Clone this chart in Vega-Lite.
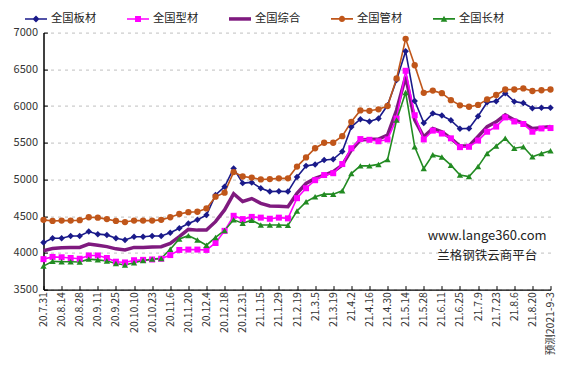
{
  "$schema": "https://vega.github.io/schema/vega-lite/v6.json",
  "width": 507,
  "height": 257,
  "autosize": {"type": "none"},
  "padding": {"left": 43.5, "top": 32.6, "right": 30.5, "bottom": 89.4},
  "config": {"view": {"stroke": null}, "font": "Noto Sans CJK SC"},
  "data": {"values": [
    {"d": "20.7.31", "全国板材": 4140, "全国型材": 3915, "全国综合": 4030, "全国管材": 4450, "全国长材": 3820},
    {"d": "20.8.7", "全国板材": 4200, "全国型材": 3945, "全国综合": 4060, "全国管材": 4435, "全国长材": 3885},
    {"d": "20.8.14", "全国板材": 4200, "全国型材": 3940, "全国综合": 4070, "全国管材": 4440, "全国长材": 3880},
    {"d": "20.8.21", "全国板材": 4230, "全国型材": 3930, "全国综合": 4075, "全国管材": 4440, "全国长材": 3880},
    {"d": "20.8.28", "全国板材": 4230, "全国型材": 3920, "全国综合": 4075, "全国管材": 4445, "全国长材": 3875},
    {"d": "20.9.4", "全国板材": 4290, "全国型材": 3965, "全国综合": 4120, "全国管材": 4485, "全国长材": 3915},
    {"d": "20.9.11", "全国板材": 4255, "全国型材": 3965, "全国综合": 4105, "全国管材": 4480, "全国长材": 3905},
    {"d": "20.9.18", "全国板材": 4245, "全国型材": 3930, "全国综合": 4085, "全国管材": 4460, "全国长材": 3890},
    {"d": "20.9.25", "全国板材": 4200, "全国型材": 3880, "全国综合": 4055, "全国管材": 4435, "全国长材": 3855},
    {"d": "20.9.30", "全国板材": 4175, "全国型材": 3870, "全国综合": 4040, "全国管材": 4420, "全国长材": 3835},
    {"d": "20.10.10", "全国板材": 4220, "全国型材": 3900, "全国综合": 4075, "全国管材": 4440, "全国长材": 3865},
    {"d": "20.10.16", "全国板材": 4220, "全国型材": 3905, "全国综合": 4075, "全国管材": 4440, "全国长材": 3895},
    {"d": "20.10.23", "全国板材": 4230, "全国型材": 3910, "全国综合": 4080, "全国管材": 4440, "全国长材": 3915},
    {"d": "20.10.30", "全国板材": 4230, "全国型材": 3920, "全国综合": 4085, "全国管材": 4450, "全国长材": 3925},
    {"d": "20.11.6", "全国板材": 4275, "全国型材": 3970, "全国综合": 4130, "全国管材": 4485, "全国长材": 4050},
    {"d": "20.11.13", "全国板材": 4335, "全国型材": 4040, "全国综合": 4220, "全国管材": 4530, "全国长材": 4190},
    {"d": "20.11.20", "全国板材": 4400, "全国型材": 4045, "全国综合": 4320, "全国管材": 4555, "全国长材": 4235},
    {"d": "20.11.27", "全国板材": 4450, "全国型材": 4045, "全国综合": 4310, "全国管材": 4560, "全国长材": 4175},
    {"d": "20.12.4", "全国板材": 4515, "全国型材": 4040, "全国综合": 4310, "全国管材": 4605, "全国长材": 4105},
    {"d": "20.12.11", "全国板材": 4790, "全国型材": 4135, "全国综合": 4425, "全国管材": 4765, "全国长材": 4210},
    {"d": "20.12.18", "全国板材": 4900, "全国型材": 4300, "全国综合": 4585, "全国管材": 4820, "全国长材": 4305},
    {"d": "20.12.25", "全国板材": 5150, "全国型材": 4505, "全国综合": 4805, "全国管材": 5100, "全国长材": 4450},
    {"d": "20.12.31", "全国板材": 4950, "全国型材": 4460, "全国综合": 4700, "全国管材": 5040, "全国长材": 4405},
    {"d": "21.1.8", "全国板材": 4960, "全国型材": 4490, "全国综合": 4740, "全国管材": 5025, "全国长材": 4445},
    {"d": "21.1.15", "全国板材": 4880, "全国型材": 4480, "全国综合": 4675, "全国管材": 5000, "全国长材": 4380},
    {"d": "21.1.22", "全国板材": 4835, "全国型材": 4465, "全国综合": 4640, "全国管材": 5005, "全国长材": 4380},
    {"d": "21.1.29", "全国板材": 4840, "全国型材": 4480, "全国综合": 4635, "全国管材": 5015, "全国长材": 4380},
    {"d": "21.2.5", "全国板材": 4835, "全国型材": 4470, "全国综合": 4630, "全国管材": 5015, "全国长材": 4375},
    {"d": "21.2.19", "全国板材": 5035, "全国型材": 4745, "全国综合": 4810, "全国管材": 5175, "全国长材": 4570},
    {"d": "21.2.26", "全国板材": 5185, "全国型材": 4880, "全国综合": 4945, "全国管材": 5300, "全国长材": 4695},
    {"d": "21.3.5", "全国板材": 5205, "全国型材": 4990, "全国综合": 5015, "全国管材": 5425, "全国长材": 4765},
    {"d": "21.3.12", "全国板材": 5265, "全国型材": 5060, "全国综合": 5060, "全国管材": 5500, "全国长材": 4800},
    {"d": "21.3.19", "全国板材": 5275, "全国型材": 5085, "全国综合": 5105, "全国管材": 5500, "全国长材": 4800},
    {"d": "21.3.26", "全国板材": 5380, "全国型材": 5210, "全国综合": 5195, "全国管材": 5590, "全国长材": 4845},
    {"d": "21.4.2", "全国板材": 5715, "全国型材": 5425, "全国综合": 5400, "全国管材": 5785, "全国长材": 5080},
    {"d": "21.4.9", "全国板材": 5820, "全国型材": 5550, "全国综合": 5540, "全国管材": 5940, "全国长材": 5185},
    {"d": "21.4.16", "全国板材": 5790, "全国型材": 5540, "全国综合": 5545, "全国管材": 5935, "全国长材": 5185},
    {"d": "21.4.23", "全国板材": 5830, "全国型材": 5520, "全国综合": 5550, "全国管材": 5955, "全国长材": 5205},
    {"d": "21.4.30", "全国板材": 6010, "全国型材": 5545, "全国综合": 5605, "全国管材": 6000, "全国长材": 5270},
    {"d": "21.5.7", "全国板材": 6355, "全国型材": 5830, "全国综合": 5945, "全国管材": 6375, "全国长材": 5810},
    {"d": "21.5.14", "全国板材": 6745, "全国型材": 6480, "全国综合": 6400, "全国管材": 6915, "全国长材": 6185},
    {"d": "21.5.21", "全国板材": 6070, "全国型材": 5875, "全国综合": 5810, "全国管材": 6555, "全国长材": 5445},
    {"d": "21.5.28", "全国板材": 5770, "全国型材": 5545, "全国综合": 5580, "全国管材": 6180, "全国长材": 5150},
    {"d": "21.6.4", "全国板材": 5900, "全国型材": 5665, "全国综合": 5695, "全国管材": 6210, "全国长材": 5335},
    {"d": "21.6.11", "全国板材": 5870, "全国型材": 5625, "全国综合": 5650, "全国管材": 6175, "全国长材": 5305},
    {"d": "21.6.18", "全国板材": 5805, "全国型材": 5560, "全国综合": 5560, "全国管材": 6080, "全国长材": 5195},
    {"d": "21.6.25", "全国板材": 5690, "全国型材": 5440, "全国综合": 5455, "全国管材": 6010, "全国长材": 5060},
    {"d": "21.7.2", "全国板材": 5695, "全国型材": 5445, "全国综合": 5455, "全国管材": 5990, "全国长材": 5040},
    {"d": "21.7.9", "全国板材": 5860, "全国型材": 5530, "全国综合": 5585, "全国管材": 6015, "全国长材": 5175},
    {"d": "21.7.16", "全国板材": 6050, "全国型材": 5650, "全国综合": 5720, "全国管材": 6090, "全国长材": 5355},
    {"d": "21.7.23", "全国板材": 6065, "全国型材": 5720, "全国综合": 5785, "全国管材": 6150, "全国长材": 5455},
    {"d": "21.7.30", "全国板材": 6175, "全国型材": 5845, "全国综合": 5880, "全国管材": 6225, "全国长材": 5560},
    {"d": "21.8.6", "全国板材": 6060, "全国型材": 5790, "全国综合": 5810, "全国管材": 6225, "全国长材": 5425},
    {"d": "21.8.13", "全国板材": 6040, "全国型材": 5755, "全国综合": 5765, "全国管材": 6240, "全国长材": 5445},
    {"d": "21.8.20", "全国板材": 5970, "全国型材": 5650, "全国综合": 5695, "全国管材": 6205, "全国长材": 5310},
    {"d": "21.8.27", "全国板材": 5975, "全国型材": 5695, "全国综合": 5705, "全国管材": 6215, "全国长材": 5355},
    {"d": "预测2021-9-3", "全国板材": 5975, "全国型材": 5700, "全国综合": 5720, "全国管材": 6225, "全国长材": 5390}
  ]},
  "transform": [{"fold": ["全国板材", "全国型材", "全国综合", "全国管材", "全国长材"], "as": ["s", "v"]}],
  "encoding": {
    "x": {
      "field": "d", "type": "ordinal", "sort": null,
      "scale": {"type": "point", "padding": 0},
      "axis": {
        "title": null,
        "values": ["20.7.31", "20.8.14", "20.8.28", "20.9.11", "20.9.25", "20.10.10", "20.10.23", "20.11.6", "20.11.20", "20.12.4", "20.12.18", "20.12.31", "21.1.15", "21.1.29", "21.2.19", "21.3.5", "21.3.19", "21.4.2", "21.4.16", "21.4.30", "21.5.14", "21.5.28", "21.6.11", "21.6.25", "21.7.9", "21.7.23", "21.8.6", "21.8.20", "预测2021-9-3"],
        "labelAngle": -90,
        "labelFontSize": 10.5,
        "labelColor": "#333333",
        "labelPadding": 6,
        "tickSize": -4,
        "tickColor": "#000000",
        "domainColor": "#000000",
        "domainWidth": 1.2,
        "grid": false
      }
    },
    "y": {
      "field": "v", "type": "quantitative",
      "scale": {"domain": [3500, 7000], "nice": false, "zero": false},
      "axis": {
        "title": null,
        "format": "d",
        "values": [3500, 4000, 4500, 5000, 5500, 6000, 6500, 7000],
        "labelFontSize": 11,
        "labelColor": "#333333",
        "labelPadding": 10,
        "tickSize": -4,
        "tickColor": "#000000",
        "domainColor": "#000000",
        "domainWidth": 1.5,
        "grid": true,
        "gridColor": "#BFBFBF",
        "gridDash": [3, 4],
        "gridWidth": 1
      }
    },
    "color": {
      "field": "s", "type": "nominal",
      "scale": {"domain": ["全国板材", "全国型材", "全国综合", "全国管材", "全国长材"], "range": ["#1A1A8A", "#FF00FF", "#7F1A7F", "#C0561A", "#228B22"]},
      "legend": null
    }
  },
  "resolve": {"legend": {"color": "independent", "shape": "independent"}},
  "layer": [
    {"transform": [{"filter": "datum.s === '全国综合'"}], "mark": {"type": "line", "strokeWidth": 3.5}},
    {"transform": [{"filter": "datum.s !== '全国综合'"}], "mark": {"type": "line", "strokeWidth": 1.6}},
    {"transform": [{"filter": "datum.s === '全国板材'"}], "mark": {"type": "point", "shape": "diamond", "filled": true, "opacity": 1, "size": 42}},
    {"transform": [{"filter": "datum.s === '全国型材'"}], "mark": {"type": "point", "shape": "square", "filled": true, "opacity": 1, "size": 36}},
    {"transform": [{"filter": "datum.s === '全国管材'"}], "mark": {"type": "point", "shape": "circle", "filled": true, "opacity": 1, "size": 40}},
    {"transform": [{"filter": "datum.s === '全国长材'"}], "mark": {"type": "point", "shape": "triangle-up", "filled": true, "opacity": 1, "size": 40}},
    {
      "mark": {"type": "point", "filled": true, "opacity": 0},
      "encoding": {
        "color": {
          "field": "s", "type": "nominal",
          "legend": {"title": null, "orient": "none", "legendX": -18.5, "legendY": -25, "direction": "horizontal", "columns": 5, "columnPadding": 30, "symbolSize": 484, "symbolOpacity": 1, "symbolStrokeWidth": 0, "labelFontSize": 11.3, "labelColor": "#222222", "labelOffset": 4, "padding": 0}
        },
        "shape": {
          "field": "s", "type": "nominal",
          "scale": {"domain": ["全国板材", "全国型材", "全国综合", "全国管材", "全国长材"], "range": [
            "M-1,-0.07H1V0.07H-1Z M0,-0.32L0.32,0L0,0.32L-0.32,0Z",
            "M-1,-0.07H1V0.07H-1Z M-0.27,-0.27H0.27V0.27H-0.27Z",
            "M-1,-0.16H1V0.16H-1Z",
            "M-1,-0.08H1V0.08H-1Z M-0.28,0A0.28,0.28 0 1,1 0.28,0A0.28,0.28 0 1,1 -0.28,0Z",
            "M-1,-0.08H1V0.08H-1Z M0,-0.3L0.3,0.25L-0.3,0.25Z"
          ]},
          "legend": {"title": null, "orient": "none", "legendX": -18.5, "legendY": -25, "direction": "horizontal", "columns": 5, "columnPadding": 30, "symbolSize": 484, "symbolOpacity": 1, "symbolStrokeWidth": 0, "labelFontSize": 11.3, "labelColor": "#222222", "labelOffset": 4, "padding": 0}
        }
      }
    },
    {
      "transform": [{"filter": "datum.d === '21.7.16' && datum.s === '全国板材'"}],
      "mark": {"type": "text", "fontSize": 13, "color": "#222222", "align": "center", "baseline": "middle"},
      "encoding": {"x": {"datum": "21.7.16"}, "y": {"datum": 4230}, "text": {"value": "www.lange360.com"}, "color": null}
    },
    {
      "transform": [{"filter": "datum.d === '21.7.16' && datum.s === '全国板材'"}],
      "mark": {"type": "text", "fontSize": 12.5, "color": "#222222", "align": "center", "baseline": "middle"},
      "encoding": {"x": {"datum": "21.7.16"}, "y": {"datum": 3957}, "text": {"value": "兰格钢铁云商平台"}, "color": null}
    }
  ]
}
